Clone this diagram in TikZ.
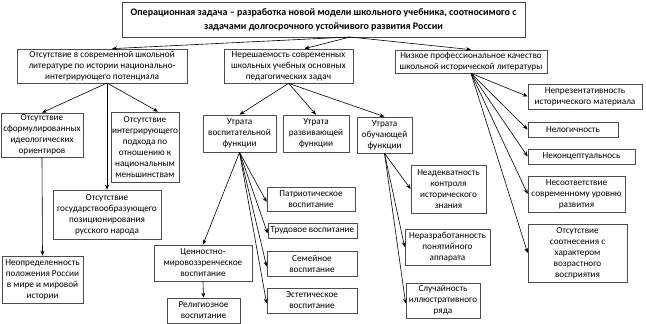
\documentclass[tikz,border=0pt]{standalone}
\usepackage{fontspec}
\setmainfont{Carlito}
\usetikzlibrary{arrows.meta,calc}
\newcommand\mybox[7][]{%
  \node[box, minimum width={(#5-#3)*1pt}, minimum height={(#6-#4)*1pt}, #1]
    (#2) at ({(#3+#5)/2},{(#4+#6)/2}) {#7};}
\tikzset{
  box/.style={draw=black!70, line width=0.7pt, fill=white, align=center,
    inner sep=1pt, font=\fontsize{9.2}{11}\selectfont},
  titlebox/.style={font=\fontsize{10}{14}\selectfont\bfseries},
  arr/.style={draw=black, line width=0.6pt, -{Stealth[length=5pt,width=4pt]}},
}
\begin{document}
\begin{tikzpicture}[x=1pt,y=-1pt]
\useasboundingbox[fill=white] (0,0) rectangle (646,324);
% top
\mybox[titlebox]{top}{122}{2}{525}{37}{Операционная задача – разработка новой модели школьного учебника, соотносимого с\\задачами долгосрочного устойчивого развития России}
% level 2
\mybox{b1}{17}{49}{187}{83}{Отсутствие в современной школьной\\литературе по истории национально-\\интегрирующего потенциала}
\mybox{b2}{224}{49}{353}{83}{Нерешаемость современных\\школьных учебных основных\\педагогических задач}
\mybox{b3}{395}{50}{547}{73}{Низкое профессиональное качество\\школьной исторической литературы}
% left group
\mybox{c11}{1}{113}{83}{157}{Отсутствие\\сформулированных\\идеологических\\ориентиров}
\mybox{c13}{120}{112}{170}{182}{Отсутствие\\интегрирующего\\подхода по\\отношению к\\национальным\\меньшинствам}
\mybox{c12}{53}{190}{161}{239}{Отсутствие\\государствообразующего\\позиционирования\\русского народа}
\mybox{c14}{2}{256}{83}{303}{Неопределенность\\положения России\\в мире и мировой\\истории}
% middle group
\mybox{c21}{203}{115}{276}{152}{Утрата\\воспитательной\\функции}
\mybox{c22}{283}{115}{349}{152}{Утрата\\развивающей\\функции}
\mybox{c23}{357}{117}{412}{153}{Утрата\\обучающей\\функции}
\mybox{d1}{267}{187}{355}{211}{Патриотическое\\воспитание}
\mybox{d2}{268}{223}{357}{238}{Трудовое воспитание}
\mybox{d3}{267}{251}{357}{276}{Семейное\\воспитание}
\mybox{d4}{267}{288}{357}{313}{Эстетическое\\воспитание}
\mybox{d5}{154}{245}{252}{281}{Ценностно-\\мировоззренческое\\воспитание}
\mybox{d6}{167}{298}{240}{323}{Религиозное\\воспитание}
\mybox{e1}{411}{165}{486}{213}{Неадекватность\\контроля\\исторического\\знания}
\mybox{e2}{405}{229}{490}{265}{Неразработанность\\понятийного\\аппарата}
\mybox{e3}{406}{283}{480}{318}{Случайность\\иллюстративного\\ряда}
% right group
\mybox{f1}{528}{84}{642}{109}{Непрезентативность\\исторического материала}
\mybox{f2}{528}{122}{618}{137}{Нелогичность}
\mybox{f3}{528}{149}{635}{164}{Неконцептуальнось}
\mybox{f4}{528}{176}{625}{212}{Несоответствие\\современному уровню\\развития}
\mybox{f5}{528}{224}{627}{282}{Отсутствие\\соотнесения с\\характером\\возрастного\\восприятия}
% connectors
\coordinate (t0) at (350,37);
\draw[arr] (t0) -- ([xshift=10pt]b1.north);
\draw[arr] (t0) -- ([xshift=16pt]b2.north);
\draw[arr] (t0) -- (b3.north);
\coordinate (l0) at (107,83);
\draw[arr] (l0) -- (c11.north);
\draw[arr] (l0) -- ([xshift=13pt]c13.north);
\draw[arr] (l0) -- (c12.north);
\draw[arr] (c11.south) -- (c14.north);
\draw[arr] (b2.south) -- (c21.north);
\draw[arr] (b2.south) -- (c22.north);
\draw[arr] (b2.south) -- (c23.north);
\draw[arr] (c21.south) -- ([yshift=-3pt]d1.west);
\draw[arr] (c21.south) -- ([yshift=-3pt]d2.west);
\draw[arr] (c21.south) -- ([yshift=-3pt]d3.west);
\draw[arr] (c21.south) -- ([yshift=-3pt]d4.west);
\draw[arr] (c21.south) -- (d5.north);
\draw[arr] (d5.south) -- (d6.north);
\draw[arr] (c23.south) -- (e1.west);
\draw[arr] (c23.south) -- (e2.west);
\draw[arr] (c23.south) -- ([yshift=-3pt]e3.west);
\draw[arr] (b3.south) -- (f1.west);
\draw[arr] (b3.south) -- (f2.west);
\draw[arr] (b3.south) -- (f3.west);
\draw[arr] (b3.south) -- (f4.west);
\draw[arr] (b3.south) -- (f5.west);
\end{tikzpicture}
\end{document}
